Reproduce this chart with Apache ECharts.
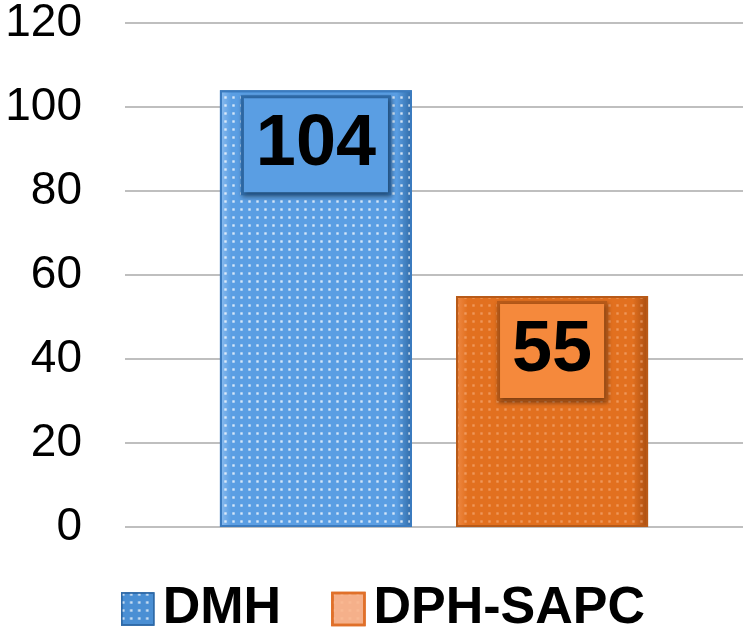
<!DOCTYPE html>
<html>
<head>
<meta charset="utf-8">
<script src="https://cdn.jsdelivr.net/npm/echarts@6/dist/echarts.min.js"></script>
<style>html,body{margin:0;padding:0;background:#fff}#c{width:743px;height:634px}</style>
</head>
<body>
<div id="c"></div>
<script>
var categories = [''];
var seriesNames = ['DMH', 'DPH-SAPC'];
var dmhValues = [104];
var dphValues = [55];
var yTicks = [0, 20, 40, 60, 80, 100, 120];

var chart = echarts.init(document.getElementById('c'));
function grad(light, base, dark) {
  return new echarts.graphic.LinearGradient(0, 0, 1, 0, [
    {offset: 0, color: light}, {offset: 0.06, color: base},
    {offset: 0.92, color: base}, {offset: 1, color: dark}
  ]);
}
var decal = {symbol: 'rect', symbolSize: 0.8, color: 'rgba(255,255,255,0.75)', dashArrayX: [3, 5], dashArrayY: [3, 4.5], rotation: 0};
var decalSoft = {symbol: 'rect', symbolSize: 0.8, color: 'rgba(255,200,160,0.45)', dashArrayX: [3, 5], dashArrayY: [3, 4.5], rotation: 0};
function lbl(bg, border) {
  return {
    show: true, position: 'insideTop', distance: 8,
    fontSize: 72, fontWeight: 'bold', color: '#000', fontFamily: 'Liberation Sans, Arial, sans-serif',
    lineHeight: 74, backgroundColor: bg, borderColor: border, borderWidth: 3,
    padding: [10, 12, 10, 12],
    shadowColor: 'rgba(0,0,0,0.35)', shadowBlur: 4, shadowOffsetX: 1, shadowOffsetY: 2
  };
}
chart.setOption({
  animation: false,
  grid: {left: 125, right: 0, top: 22, bottom: 107},
  legend: {
    left: 116, top: 578, itemWidth: 32, itemHeight: 32, itemGap: 50,
    textStyle: {fontSize: 52, lineHeight: 52, fontWeight: 'bold', color: '#000', fontFamily: 'Liberation Sans, Arial, sans-serif', padding: [0, 0, 0, 4]},
    data: [
      {name: seriesNames[0], icon: 'rect', itemStyle: {color: '#4a8fd4', borderColor: '#2e6aa8', borderWidth: 1.5}},
      {name: seriesNames[1], icon: 'rect', itemStyle: {color: '#f5b08a', borderColor: '#e0702a', borderWidth: 2.5}}
    ]
  },
  xAxis: {type: 'category', data: categories, axisLine: {show: false}, axisTick: {show: false}, axisLabel: {show: false}},
  yAxis: {
    type: 'value', min: 0, max: 120, interval: 20,
    axisLine: {show: false}, axisTick: {show: false},
    axisLabel: {fontSize: 46, color: '#000', margin: 43, fontFamily: 'Liberation Sans, Arial, sans-serif',
      formatter: function (v) { return yTicks.indexOf(v) >= 0 ? String(v) : ''; }},
    splitLine: {lineStyle: {color: '#bfbfbf', width: 2}}
  },
  series: [
    {name: seriesNames[0], type: 'bar', data: dmhValues, barWidth: 192, barGap: '23%',
      itemStyle: {color: grad('#8cbdf0', '#5a9ee3', '#2f6aa6'), borderColor: '#3b7bbf', borderWidth: 2, decal: decal},
      label: lbl('#5a9ee3', '#2f6ba8')},
    {name: seriesNames[1], type: 'bar', data: dphValues, barWidth: 192,
      itemStyle: {color: grad('#f08a45', '#e2701f', '#a84d10'), borderColor: '#b85a18', borderWidth: 2, decal: decalSoft},
      label: lbl('#f5893c', '#b85a18')}
  ]
});
</script>
</body>
</html>
